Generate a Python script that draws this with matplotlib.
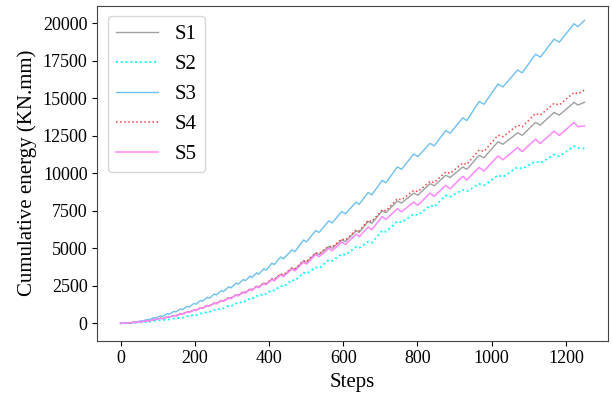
import matplotlib
matplotlib.use("Agg")
import matplotlib.pyplot as plt

# cycle peaks (cusps) and the dip right after each one
peak_steps = [18, 36, 54, 72, 90, 108, 126, 144, 162, 180, 198, 216, 234, 253, 272, 292, 312, 331, 349, 367, 386,
              408, 431, 462, 493, 526, 561, 596, 635, 667, 705, 746, 790, 834, 876, 922, 966, 1017, 1070, 1118, 1168, 1222]
dip_steps = [23, 41, 59, 77, 95, 113, 131, 149, 167, 185, 203, 221, 239, 258, 277, 297, 317, 336, 354, 372, 392,
             414, 439, 470, 501, 535, 570, 606, 643, 677, 715, 757, 801, 845, 888, 933, 979, 1030, 1082, 1131, 1182, 1232]
last_step = 1250

s1_peak = [25, 65, 120, 180, 260, 340, 430, 530, 640, 770, 900, 1050, 1200, 1360, 1530, 1720, 1910, 2100, 2290, 2480, 2690,
           2960, 3270, 3680, 4150, 4680, 5110, 5560, 6170, 6790, 7500, 8150, 8680, 9310, 9870, 10420, 11200, 12100, 12700, 13390, 14060, 14730]
s1_dip = [22, 60, 112, 170, 248, 325, 412, 510, 618, 745, 872, 1020, 1165, 1320, 1485, 1670, 1855, 2040, 2225, 2410, 2615,
          2880, 3185, 3590, 4055, 4580, 5005, 5450, 6055, 6670, 7375, 8020, 8545, 9170, 9720, 10265, 11040, 11935, 12530, 13215, 13880, 14550]
s1_end = 14730

s2_peak = [15, 40, 75, 115, 160, 215, 270, 330, 400, 480, 570, 670, 780, 900, 1030, 1180, 1340, 1500, 1660, 1830, 2010,
           2240, 2500, 2900, 3380, 3740, 4230, 4630, 5100, 5450, 6190, 6810, 7300, 7860, 8530, 8900, 9300, 9870, 10420, 10800, 11250, 11810]
s2_dip = [13, 36, 69, 107, 150, 203, 256, 314, 382, 460, 548, 645, 752, 870, 997, 1144, 1300, 1457, 1614, 1780, 1957,
          2184, 2440, 2837, 3314, 3670, 4157, 4554, 5020, 5367, 6104, 6720, 7207, 7764, 8430, 8795, 9190, 9755, 10300, 10680, 11130, 11690]
s2_end = 11650

s3_peak = [30, 90, 170, 260, 380, 500, 640, 800, 960, 1140, 1330, 1530, 1740, 1960, 2190, 2440, 2690, 2930, 3150, 3370, 3640,
           4020, 4420, 4900, 5560, 6190, 6830, 7450, 8080, 8720, 9530, 10430, 11290, 12000, 12850, 13700, 14790, 15950, 16890, 17940, 18940, 19970]
s3_dip = [25, 80, 155, 240, 355, 470, 605, 760, 915, 1090, 1275, 1470, 1675, 1890, 2115, 2360, 2605, 2840, 3055, 3270, 3535,
          3910, 4305, 4780, 5435, 6060, 6695, 7310, 7930, 8565, 9370, 10265, 11120, 11825, 12670, 13515, 14600, 15755, 16690, 17740, 18740, 19770]
s3_end = 20190

s4_peak = [25, 65, 120, 180, 260, 340, 430, 530, 640, 770, 900, 1050, 1200, 1360, 1530, 1720, 1920, 2110, 2300, 2490, 2700,
           2980, 3290, 3700, 4180, 4700, 5150, 5620, 6230, 6860, 7570, 8310, 8860, 9470, 10090, 10690, 11560, 12540, 13210, 13990, 14660, 15400]
s4_dip = [22, 60, 112, 170, 248, 325, 412, 510, 618, 745, 872, 1020, 1168, 1325, 1492, 1680, 1878, 2065, 2252, 2440, 2648,
          2925, 3232, 3640, 4118, 4635, 5082, 5550, 6158, 6785, 7492, 8230, 8775, 9380, 9995, 10590, 11460, 12435, 13100, 13880, 14550, 15290]
s4_end = 15550

s5_peak = [25, 65, 120, 180, 255, 335, 425, 525, 635, 760, 890, 1040, 1190, 1350, 1515, 1700, 1890, 2080, 2270, 2460, 2660,
           2930, 3220, 3620, 4080, 4580, 4990, 5420, 5950, 6420, 7120, 7640, 8080, 8680, 9200, 9800, 10400, 11160, 11720, 12270, 12810, 13390]
s5_dip = [22, 59, 111, 168, 240, 317, 403, 499, 605, 725, 850, 995, 1140, 1295, 1455, 1635, 1820, 2005, 2190, 2375, 2570,
          2830, 3110, 3500, 3950, 4440, 4840, 5260, 5780, 6240, 6930, 7440, 7870, 8460, 8970, 9560, 10150, 10900, 11450, 11990, 12520, 13100]
s5_end = 13160


def build(peaks, dips, end):
    xs, ys = [0], [0]
    for p, d, vp, vd in zip(peak_steps, dip_steps, peaks, dips):
        xs += [p, d]
        ys += [vp, vd]
    xs.append(last_step)
    ys.append(end)
    return xs, ys


plt.rcParams['font.family'] = ['Liberation Serif', 'DejaVu Serif']
fig, ax = plt.subplots(figsize=(6.12, 3.97), dpi=100)
fig.subplots_adjust(left=0.159, right=0.993, bottom=0.142, top=0.986)

series = [
    ("S1", s1_peak, s1_dip, s1_end, "#a0a0a0", "-", 1.0),
    ("S2", s2_peak, s2_dip, s2_end, "cyan", ":", 1.3),
    ("S3", s3_peak, s3_dip, s3_end, "#6ec0f0", "-", 1.0),
    ("S4", s4_peak, s4_dip, s4_end, "#ee4444", ":", 1.1),
    ("S5", s5_peak, s5_dip, s5_end, "#ff88ff", "-", 1.1),
]
for name, pk, dp, end, col, ls, lw in series:
    x, y = build(pk, dp, end)
    ax.plot(x, y, color=col, linestyle=ls, linewidth=lw, label=name)

ax.set_xlabel("Steps", fontsize=15)
ax.set_ylabel("Cumulative energy (KN.mm)", fontsize=15)
ax.set_xticks([0, 200, 400, 600, 800, 1000, 1200])
ax.set_yticks([0, 2500, 5000, 7500, 10000, 12500, 15000, 17500, 20000])
ax.set_ylim(-1150, 21180)
ax.tick_params(labelsize=13)
for sp in ax.spines.values():
    sp.set_color("#444444")
ax.legend(loc="upper left", fontsize=15)

fig.savefig("out.png", dpi=100)
